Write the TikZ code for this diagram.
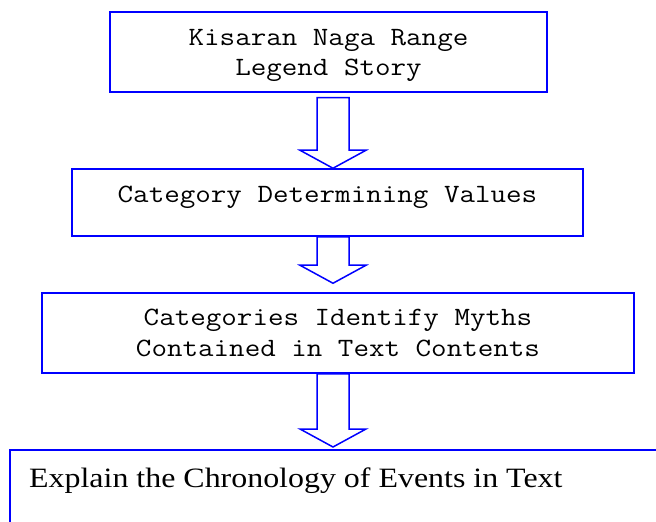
\documentclass[tikz,border=0pt]{standalone}
\usepackage{fontspec}
\setmonofont[FakeStretch=1.143]{Latin Modern Mono}
\newfontfamily\storyfont[FakeStretch=1.14]{Liberation Serif}
\usetikzlibrary{calc}

\tikzset{
  box/.style={draw=blue, line width=1.5bp, rectangle, inner sep=0pt},
  blockarr/.style={draw=blue, line width=1.5bp, fill=white, line join=miter},
  monotext/.style={font=\ttfamily\fontsize{26.4bp}{30bp}\selectfont, inner sep=0pt, anchor=base},
  storytext/.style={font=\storyfont\fontsize{28bp}{32bp}\selectfont, inner sep=0pt, anchor=base west}
}

% hollow down arrow: tail anchor, tip anchor, gap below tail, gap above tip
\newcommand{\blockarrow}[4]{%
  \path (#1 -| axis) ++(0,#3) coordinate (tail)
        (#2 -| axis) ++(0,-#4) coordinate (tip);
  \draw[blockarr] ($(tail)+(-16,0)$) -- ($(tip)+(-16,-18)$) -- ($(tip)+(-33,-18)$) -- (tip)
    -- ($(tip)+(33,-18)$) -- ($(tip)+(16,-18)$) -- ($(tail)+(16,0)$) -- cycle;}

\begin{document}
\begin{tikzpicture}[x=1bp,y=-1bp]
\useasboundingbox (0,0) rectangle (656,522);
\clip (0,0) rectangle (656,522);

% boxes
\node[box, minimum width=437bp, minimum height=80bp] (legend) at (328.5,52) {};
\node[box, minimum width=511bp, minimum height=67bp] (values) at (327.5,202.5) {};
\node[box, minimum width=592bp, minimum height=80bp] (myths) at (338,333) {};
\node[box, anchor=north west, minimum width=660bp, minimum height=90bp] (chrono) at (9,449) {};

% texts
\node[monotext] (legend1) at (328.5,46) {Kisaran Naga Range};
\node[monotext] (legend2) at (328.5,76) {Legend Story};
\node[monotext] (valuestxt) at (327.5,203) {Category Determining Values};
\node[monotext] (myths1) at (338,325) {Categories Identify Myths};
\node[monotext] (myths2) at (338,356) {Contained in Text Contents};
\node[storytext] (chronotxt) at (29,487) {Explain the Chronology of Events in Text};

% arrows
\coordinate (axis) at (333,0);
\blockarrow{legend.south}{values.north}{5}{0}
\blockarrow{values.south}{myths.north}{0}{9}
\blockarrow{myths.south}{chrono.north}{0}{2}
\end{tikzpicture}
\end{document}
